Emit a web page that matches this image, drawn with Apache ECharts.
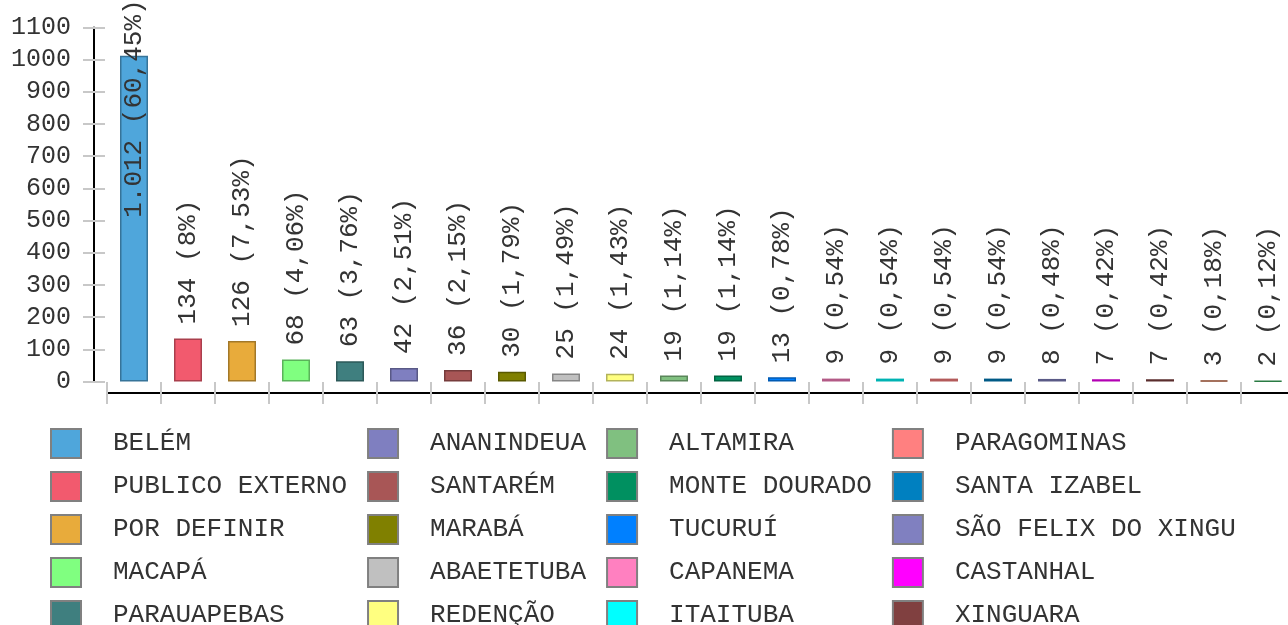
<!DOCTYPE html>
<html>
<head>
<meta charset="utf-8">
<script src="https://cdn.jsdelivr.net/npm/echarts@6/dist/echarts.min.js"></script>
<style>
html,body{margin:0;padding:0;background:#fff;}
#main{width:1288px;height:625px;}
</style>
</head>
<body>
<div id="main"></div>
<script>
// categorias (os dois ultimos nao aparecem na legenda visivel)
var cities = ['BELÉM','PUBLICO EXTERNO','POR DEFINIR','MACAPÁ','PARAUAPEBAS',
	'ANANINDEUA','SANTARÉM','MARABÁ','ABAETETUBA','REDENÇÃO',
	'ALTAMIRA','MONTE DOURADO','TUCURUÍ','CAPANEMA','ITAITUBA',
	'PARAGOMINAS','SANTA IZABEL','SÃO FELIX DO XINGU','CASTANHAL','XINGUARA',
	'ITEM 21','ITEM 22'];
var counts = [1012,134,126,68,63,42,36,30,25,24,19,19,13,9,9,9,9,8,7,7,3,2];
var percents = [60.45,8,7.53,4.06,3.76,2.51,2.15,1.79,1.49,1.43,1.14,1.14,0.78,0.54,0.54,0.54,0.54,0.48,0.42,0.42,0.18,0.12];
var yMin = 0, yMax = 1100, yStep = 100;

var colors = ['#4fa6db','#f25a6e','#e8ab3b','#80ff80','#3f7f7f','#7f7fc0','#a85656','#808000','#c0c0c0','#ffff80',
	'#80c080','#009060','#0080ff','#ff80c0','#00ffff','#ff8080','#0080c0','#8080c0','#ff00ff','#804040',
	'#c0603a','#3cb060'];
var font = "'Liberation Mono', 'Courier New', monospace";
var legendCount = 20;

function darken(hex){
	var n = parseInt(hex.slice(1),16);
	var r = Math.round(((n>>16)&255)*.7), g = Math.round(((n>>8)&255)*.7), b = Math.round((n&255)*.7);
	return 'rgb('+r+','+g+','+b+')';
}
function fmtCount(v){
	return String(v).replace(/\B(?=(\d{3})+(?!\d))/g,'.');
}
function fmtPct(p){
	return String(p).replace('.',',');
}

var series = cities.map(function(name, i){
	return {
		name: name,
		type: 'bar',
		stack: 'total',
		barWidth: 28,
		xAxisIndex: 0,
		yAxisIndex: 0,
		data: cities.map(function(c, j){ return j === i ? counts[j] : null; }),
		itemStyle: {color: colors[i], borderColor: darken(colors[i]), borderWidth: 1.5},
		label: {
			show: true,
			position: i === 0 ? ['50%', 162] : 'top',
			distance: 14,
			rotate: 90,
			align: 'left',
			verticalAlign: 'middle',
			fontFamily: font,
			fontSize: 26,
			color: '#333',
			formatter: function(p){
				return fmtCount(p.value) + ' (' + fmtPct(percents[p.dataIndex]) + '%)';
			}
		},
		emphasis: {disabled: true}
	};
});

var tickStyle = {color: '#c8c8c8', width: 2};
var chart = echarts.init(document.getElementById('main'));
chart.setOption({
	animation: false,
	grid: {left: 107, top: 27.5, width: 1188, height: 354, outerBoundsMode: 'none'},
	xAxis: [
		{type: 'category', data: cities, position: 'bottom', offset: 11.5,
			axisLine: {onZero: false, lineStyle: {color: '#000', width: 2}},
			axisTick: {show: true, interval: 0, length: 11, lineStyle: tickStyle},
			axisLabel: {show: false}, splitLine: {show: false}},
		{type: 'category', data: cities, position: 'bottom', offset: 11.5,
			axisLine: {show: false, onZero: false},
			axisTick: {show: true, interval: 0, inside: true, length: 11, lineStyle: tickStyle},
			axisLabel: {show: false}, splitLine: {show: false}}
	],
	yAxis: [
		{type: 'value', min: yMin, max: yMax, interval: yStep, position: 'left', offset: 13,
			axisLine: {show: true, onZero: false, lineStyle: {color: '#000', width: 2}},
			axisTick: {show: true, length: 11, lineStyle: tickStyle},
			axisLabel: {fontFamily: font, fontSize: 25, color: '#333', margin: 23,
				formatter: function(v){ return String(v); }},
			splitLine: {show: false}},
		{type: 'value', min: yMin, max: yMax, interval: yStep, position: 'left', offset: 13,
			axisLine: {show: false, onZero: false},
			axisTick: {show: true, inside: true, length: 11, lineStyle: tickStyle},
			axisLabel: {show: false}, splitLine: {show: false}}
	],
	legend: {
		orient: 'vertical',
		left: 50,
		top: 428,
		height: 228,
		padding: 0,
		itemWidth: 30,
		itemHeight: 29,
		itemGap: 12,
		icon: 'rect',
		selectedMode: false,
		data: cities.slice(0, legendCount),
		itemStyle: {borderColor: '#808080', borderWidth: 2},
		textStyle: {fontFamily: font, fontSize: 26, lineHeight: 29, color: '#333', padding: [0, 8, 0, 27]}
	},
	series: series
});
</script>
</body>
</html>
